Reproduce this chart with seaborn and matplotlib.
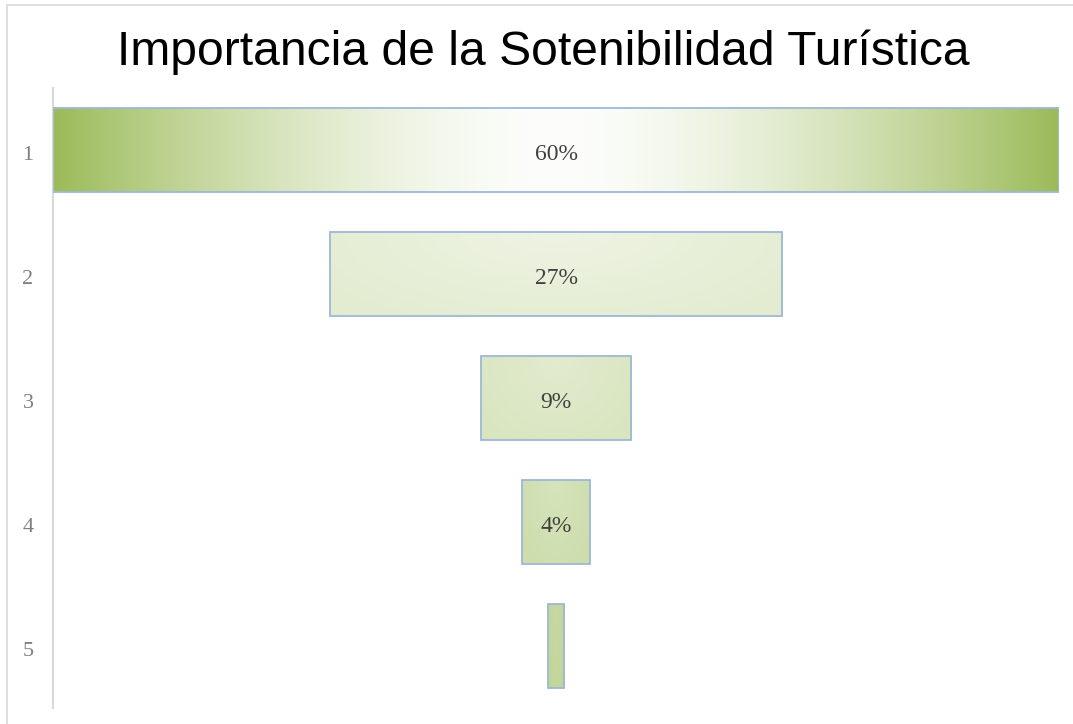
import numpy as np
import pandas as pd
import seaborn as sns
import matplotlib.pyplot as plt
import matplotlib.transforms as mtransforms
from matplotlib.patches import Rectangle

# Funnel stages and their shares (percent)
stages = ["1", "2", "3", "4", "5"]
shares = [60, 27, 9, 4, 1]
shown_labels = ["60%", "27%", "9%", "4%", ""]
title = "Importancia de la Sotenibilidad Turística"

sns.set_theme(style="white")
plt.rcParams["font.family"] = ["Liberation Sans", "DejaVu Sans"]

GREEN = np.array([155, 187, 89]) / 255.0
WHITE = np.array([1.0, 1.0, 1.0])
EDGE = "#9DB8D8"
SERIF = ["Liberation Serif", "DejaVu Serif"]

# gradient strength per stage: (centre tint, edge tint)
tints = [(0.02, 1.0), (0.17, 0.28), (0.29, 0.38), (0.40, 0.50), (0.56, 0.62)]

df = pd.DataFrame({"stage": stages, "share": shares})

fig = plt.figure(figsize=(10.73, 7.24), dpi=100)
ax = fig.add_axes([53 / 1073, 16 / 724, 1006 / 1073, 620 / 724])

sns.barplot(data=df, x="share", y="stage", orient="h", order=stages,
            width=0.67, color=GREEN, ax=ax)

ax.set_xlim(-30, 30)
ylim = ax.get_ylim()

for patch, val, lab, (t0, t1) in zip(ax.patches, shares, shown_labels, tints):
    w = patch.get_width()
    patch.set_x(-w / 2)
    y0 = patch.get_y()
    h = patch.get_height()
    # shaded fill: lighter towards the middle of each bar
    nx, ny = 400, 60
    xs = np.linspace(-1, 1, nx)
    ys = np.linspace(-1, 1, ny)
    X, Y = np.meshgrid(xs, ys)
    if t1 - t0 > 0.5:
        r = np.abs(X) ** 1.6
    else:
        r = np.clip(np.sqrt(X ** 2 * 0.6 + ((Y + 1) / 2) ** 2 * 0.6), 0, 1)
    t = t0 + (t1 - t0) * r
    img = WHITE[None, None, :] * (1 - t[..., None]) + GREEN[None, None, :] * t[..., None]
    ax.imshow(img, extent=[-w / 2, w / 2, y0 + h, y0], aspect="auto",
              zorder=patch.get_zorder() - 0.1, interpolation="bilinear")
    patch.set_facecolor("none")
    patch.set_edgecolor(EDGE)
    patch.set_linewidth(1.3)
    patch.set_zorder(3)
    if lab:
        ax.annotate(lab, (0, y0 + h / 2), xytext=(0, -3.5), textcoords="offset points",
                    ha="center", va="center", fontsize=17, color="#404040",
                    family=SERIF, zorder=4)

ax.set_xlim(-30, 30)
ax.set_ylim(ylim)
ax.set_xlabel("")
ax.set_ylabel("")
ax.set_xticks([])
for side in ["top", "right", "bottom"]:
    ax.spines[side].set_visible(False)
ax.spines["left"].set_color("#D9D9D9")
ax.spines["left"].set_linewidth(1.5)
ax.tick_params(axis="y", length=0, pad=14, labelsize=16, labelcolor="#7F7F7F")
shift = mtransforms.ScaledTranslation(0, -3 / 100, fig.dpi_scale_trans)
for tl in ax.get_yticklabels():
    tl.set_family(SERIF)
    tl.set_verticalalignment("center_baseline")
    tl.set_transform(tl.get_transform() + shift)

# chart frame
fig.add_artist(Rectangle((7 / 1073, -0.2), 1.2, 0.2 + 1 - 5 / 724,
                         transform=fig.transFigure, fill=False,
                         edgecolor="#D9D9D9", linewidth=1.2))

fig.text(543 / 1073, 1 - 65 / 724, title, ha="center", va="baseline",
         fontsize=34.6, color="black")

fig.savefig("out.png", dpi=100, facecolor="white")
